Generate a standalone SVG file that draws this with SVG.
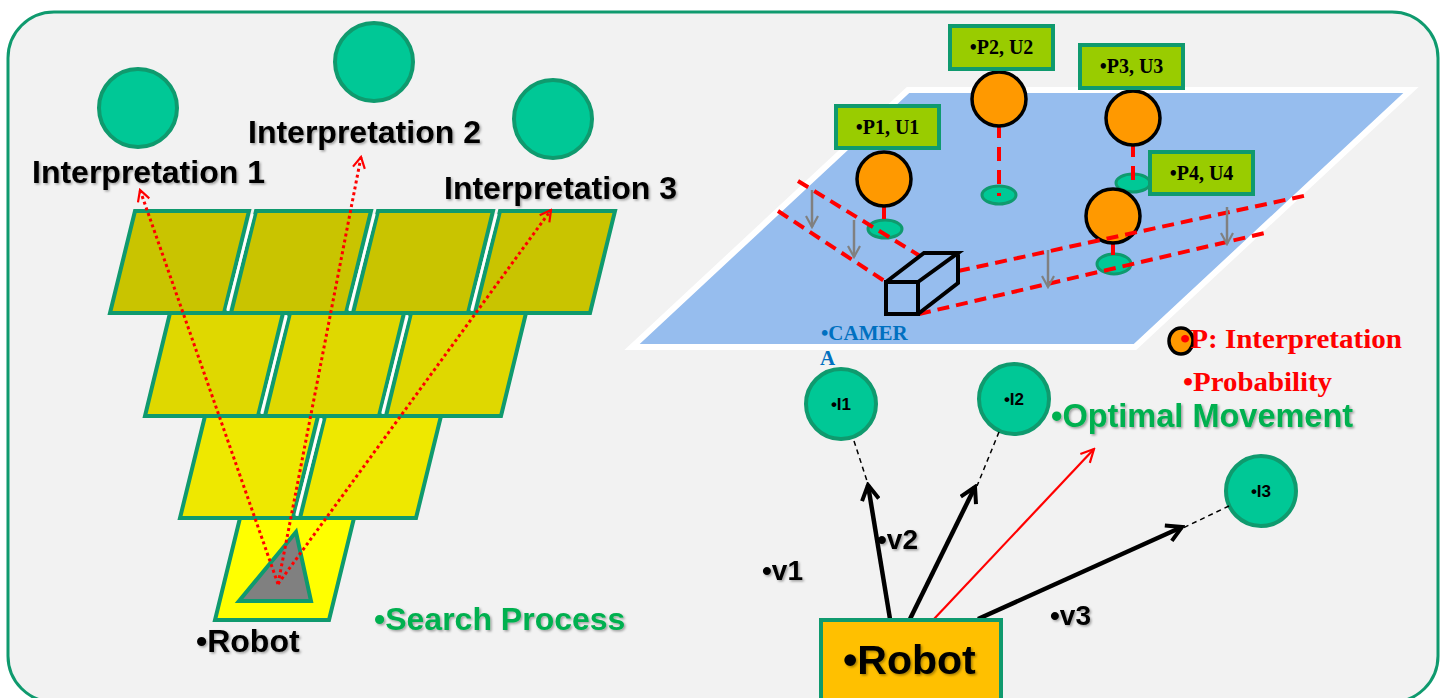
<svg xmlns="http://www.w3.org/2000/svg" width="1444" height="698" viewBox="0 0 1444 698">
  <defs>
    <style>
      .frame { fill: #f2f2f2; stroke: #0f9a6e; stroke-width: 3; }
      .tile { stroke: #0f9a6e; stroke-width: 4; stroke-linejoin: miter; }
      .gap { stroke: #ffffff; stroke-width: 2.5; }
      .teal { fill: #00c896; stroke: #0f9a6e; stroke-width: 4; }
      .tealS { fill: #00c896; stroke: #0f9a6e; stroke-width: 3; }
      .orange { fill: #ff9900; stroke: #000; stroke-width: 3.5; }
      .lbl { fill: #99cc00; stroke: #0f9a6e; stroke-width: 4; }
      .sans { font-family: "Liberation Sans", Arial, sans-serif; font-weight: bold; }
      .serif { font-family: "Liberation Serif", "Times New Roman", serif; font-weight: bold; }
      .dotted { fill: none; stroke: #ff0000; stroke-width: 3; stroke-dasharray: 3 3; }
      .frustum { fill: none; stroke: #ff0000; stroke-width: 4; stroke-dasharray: 12 7; }
      .stem { fill: none; stroke: #ff0000; stroke-width: 4; stroke-dasharray: 14 9; }
      .drop { fill: none; stroke: #808080; stroke-width: 2.5; }
      .vec { fill: none; stroke: #000; stroke-width: 4.5; }
      .thin { fill: none; stroke: #000; stroke-width: 1.5; stroke-dasharray: 5 4; }
    </style>
    <filter id="sh" x="-10%" y="-30%" width="130%" height="170%">
      <feDropShadow dx="1.5" dy="1.5" stdDeviation="0.8" flood-color="#000" flood-opacity="0.35"/>
    </filter>
    <marker id="redOpen" viewBox="0 0 14 14" refX="12" refY="7" markerWidth="14" markerHeight="14" markerUnits="userSpaceOnUse" orient="auto">
      <path d="M1,1 L12,7 L1,13" fill="none" stroke="#ff0000" stroke-width="2.2"/>
    </marker>
    <marker id="blackOpen" viewBox="0 0 20 20" refX="17" refY="10" markerWidth="20" markerHeight="20" markerUnits="userSpaceOnUse" orient="auto">
      <path d="M2,1.5 L17,10 L2,18.5" fill="none" stroke="#000" stroke-width="4" stroke-linejoin="miter"/>
    </marker>
    <marker id="redThin" viewBox="0 0 16 16" refX="14" refY="8" markerWidth="16" markerHeight="16" markerUnits="userSpaceOnUse" orient="auto">
      <path d="M1,1.5 L14,8 L1,14.5" fill="none" stroke="#ff0000" stroke-width="2.2"/>
    </marker>
    <marker id="grayOpen" viewBox="0 0 14 14" refX="12" refY="7" markerWidth="14" markerHeight="14" markerUnits="userSpaceOnUse" orient="auto">
      <path d="M1,1 L12,7 L1,13" fill="none" stroke="#808080" stroke-width="2.2"/>
    </marker>
  </defs>

  <!-- outer panel -->
  <rect class="frame" x="8" y="12" width="1430" height="690" rx="46" ry="46"/>

  <!-- ===== left: search pyramid ===== -->
  <g id="interp1">
    <circle class="teal" cx="138" cy="108" r="39"/>
    <text class="sans" x="32" y="183" font-size="32" fill="#000" filter="url(#sh)">Interpretation 1</text>
  </g>
  <g id="interp2">
    <circle class="teal" cx="374" cy="62" r="39"/>
    <text class="sans" x="248" y="143" font-size="32" fill="#000" filter="url(#sh)">Interpretation 2</text>
  </g>
  <g id="interp3">
    <circle class="teal" cx="553" cy="119" r="39"/>
    <text class="sans" x="444" y="199" font-size="32" fill="#000" filter="url(#sh)">Interpretation 3</text>
  </g>

  <g id="grid">
    <!-- row 1 -->
    <polygon class="tile" fill="#c9c400" points="135,211 249,211 224,313 110,313"/>
    <polygon class="tile" fill="#c9c400" points="256,211 371,211 346,313 231,313"/>
    <polygon class="tile" fill="#c9c400" points="378,211 493,211 468,313 353,313"/>
    <polygon class="tile" fill="#c9c400" points="500,211 615,211 590,313 475,313"/>
    <!-- row 2 -->
    <polygon class="tile" fill="#dfd800" points="170,313 283,313 258,416 145,416"/>
    <polygon class="tile" fill="#dfd800" points="290,313 404,313 379,416 265,416"/>
    <polygon class="tile" fill="#dfd800" points="411,313 526,313 501,416 386,416"/>
    <!-- row 3 -->
    <polygon class="tile" fill="#eee800" points="205,416 318,416 293,518 180,518"/>
    <polygon class="tile" fill="#eee800" points="325,416 441,416 416,518 300,518"/>
    <!-- row 4 -->
    <polygon class="tile" fill="#ffff00" points="240,518 354,518 329,620 215,620"/>
    <!-- white seams between tiles -->
    <line class="gap" x1="252.5" y1="214" x2="227.5" y2="310"/>
    <line class="gap" x1="374.5" y1="214" x2="349.5" y2="310"/>
    <line class="gap" x1="496.5" y1="214" x2="471.5" y2="310"/>
    <line class="gap" x1="286.5" y1="316" x2="261.5" y2="413"/>
    <line class="gap" x1="407.5" y1="316" x2="382.5" y2="413"/>
    <line class="gap" x1="321.5" y1="419" x2="296.5" y2="515"/>
  </g>

  <g id="robotLeft">
    <polygon points="296,532 239,601 311,601" fill="#808080" stroke="#0f9a6e" stroke-width="4" stroke-linejoin="miter"/>
    <text class="sans" x="196" y="652" font-size="32" fill="#000" filter="url(#sh)">•Robot</text>
  </g>

  <g id="searchConnectors">
    <line class="dotted" x1="278" y1="584" x2="140" y2="190" marker-end="url(#redOpen)"/>
    <line class="dotted" x1="278" y1="584" x2="361" y2="157" marker-end="url(#redOpen)"/>
    <line class="dotted" x1="278" y1="584" x2="551" y2="210" marker-end="url(#redOpen)"/>
  </g>

  <text class="sans" x="374" y="630" font-size="32" fill="#00b050" filter="url(#sh)">•Search Process</text>

  <!-- ===== right: camera scene ===== -->
  <g id="plane">
    <polygon points="908,90 1411,90 1135,347 632,347" fill="#96bdee" stroke="#ffffff" stroke-width="6" stroke-linejoin="miter"/>
  </g>

  <g id="groundMarks">
    <ellipse class="tealS" cx="885" cy="229" rx="17" ry="9"/>
    <ellipse class="tealS" cx="999" cy="195" rx="17" ry="9"/>
    <ellipse class="tealS" cx="1133" cy="183" rx="17" ry="9"/>
    <ellipse class="tealS" cx="1114" cy="264" rx="17" ry="10"/>
  </g>

  <g id="stems">
    <line class="stem" x1="884" y1="205" x2="884" y2="228" stroke-dasharray="none"/>
    <line class="stem" x1="999" y1="124" x2="999" y2="196"/>
    <line class="stem" x1="1133" y1="143" x2="1133" y2="186"/>
    <line class="stem" x1="1113" y1="241" x2="1113" y2="262" stroke-dasharray="none"/>
  </g>

  <g id="p1">
    <ellipse class="orange" cx="884" cy="179" rx="27" ry="27"/>
    <rect class="lbl" x="836" y="106" width="103" height="42"/>
    <text class="serif" x="887.5" y="134" font-size="20" fill="#000" text-anchor="middle">•P1, U1</text>
  </g>
  <g id="p2">
    <ellipse class="orange" cx="999" cy="99" rx="27" ry="27"/>
    <rect class="lbl" x="950" y="26" width="103" height="43"/>
    <text class="serif" x="1001.5" y="54" font-size="20" fill="#000" text-anchor="middle">•P2, U2</text>
  </g>
  <g id="p3">
    <ellipse class="orange" cx="1133" cy="118" rx="27" ry="27"/>
    <rect class="lbl" x="1080" y="45" width="103" height="43"/>
    <text class="serif" x="1131.5" y="73" font-size="20" fill="#000" text-anchor="middle">•P3, U3</text>
  </g>
  <g id="p4">
    <ellipse class="orange" cx="1113" cy="216" rx="27" ry="27"/>
    <rect class="lbl" x="1150" y="152" width="103" height="42"/>
    <text class="serif" x="1201.5" y="180" font-size="20" fill="#000" text-anchor="middle">•P4, U4</text>
  </g>

  <g id="frustum">
    <line class="frustum" x1="798" y1="181" x2="920" y2="256"/>
    <line class="frustum" x1="778" y1="211" x2="886" y2="282"/>
    <line class="frustum" x1="958" y1="271" x2="1308" y2="195"/>
    <line class="frustum" x1="919" y1="314" x2="1265" y2="233"/>
    <line class="drop" x1="812" y1="190" x2="812" y2="227" marker-end="url(#grayOpen)"/>
    <line class="drop" x1="854" y1="220" x2="854" y2="257" marker-end="url(#grayOpen)"/>
    <line class="drop" x1="1048" y1="250" x2="1048" y2="287" marker-end="url(#grayOpen)"/>
    <line class="drop" x1="1227" y1="207" x2="1227" y2="244" marker-end="url(#grayOpen)"/>
  </g>

  <g id="camera">
    <path d="M886,282 L918,282 L918,314 L886,314 Z M886,282 L924,253 L958,253 L918,282 M958,253 L958,283 L918,314" fill="none" stroke="#000" stroke-width="4" stroke-linejoin="miter"/>
    <text class="serif" x="821" y="340" font-size="21" fill="#0070c0">•CAMER</text>
    <text class="serif" x="820" y="365" font-size="21" fill="#0070c0">A</text>
  </g>

  <g id="legend">
    <ellipse class="orange" cx="1181" cy="341" rx="12" ry="13"/>
    <text class="serif" x="1180" y="348" font-size="27" fill="#ff0000" textLength="222" lengthAdjust="spacingAndGlyphs">•P: Interpretation</text>
    <text class="serif" x="1183" y="391" font-size="27" fill="#ff0000" textLength="149" lengthAdjust="spacingAndGlyphs">•Probability</text>
  </g>

  <!-- ===== right: movement choice ===== -->
  <g id="i1">
    <circle class="teal" cx="841" cy="404" r="35"/>
    <text class="sans" x="841" y="410" font-size="17" font-weight="normal" fill="#000" text-anchor="middle">•I1</text>
  </g>
  <g id="i2">
    <circle class="teal" cx="1014" cy="399" r="35"/>
    <text class="sans" x="1014" y="405" font-size="17" font-weight="normal" fill="#000" text-anchor="middle">•I2</text>
  </g>
  <g id="i3">
    <circle class="teal" cx="1261" cy="491" r="35"/>
    <text class="sans" x="1261" y="497" font-size="17" font-weight="normal" fill="#000" text-anchor="middle">•I3</text>
  </g>

  <g id="movementConnectors">
    <line class="thin" x1="854" y1="441" x2="868" y2="484"/>
    <line class="thin" x1="999" y1="432" x2="977" y2="486"/>
    <line class="thin" x1="1229" y1="506" x2="1183" y2="528"/>
    <line class="vec" x1="890" y1="619" x2="868" y2="485" marker-end="url(#blackOpen)"/>
    <line class="vec" x1="910" y1="619" x2="975" y2="487" marker-end="url(#blackOpen)"/>
    <line class="vec" x1="978" y1="619" x2="1182" y2="527" marker-end="url(#blackOpen)"/>
    <line x1="934" y1="619" x2="1094" y2="449" stroke="#ff0000" stroke-width="2.2" marker-end="url(#redThin)"/>
  </g>

  <text class="sans" x="1051" y="427" font-size="32.5" fill="#00b050" filter="url(#sh)">•Optimal Movement</text>
  <text class="sans" x="762" y="580" font-size="28" fill="#000" filter="url(#sh)">•v1</text>
  <text class="sans" x="877" y="549" font-size="28" fill="#000" filter="url(#sh)">•v2</text>
  <text class="sans" x="1050" y="625" font-size="28" fill="#000" filter="url(#sh)">•v3</text>

  <g id="robotRight">
    <rect x="821" y="620" width="180" height="84" fill="#ffc000" stroke="#0f9a6e" stroke-width="4"/>
    <text class="sans" x="843" y="674" font-size="41" fill="#000" filter="url(#sh)">•Robot</text>
  </g>
</svg>
